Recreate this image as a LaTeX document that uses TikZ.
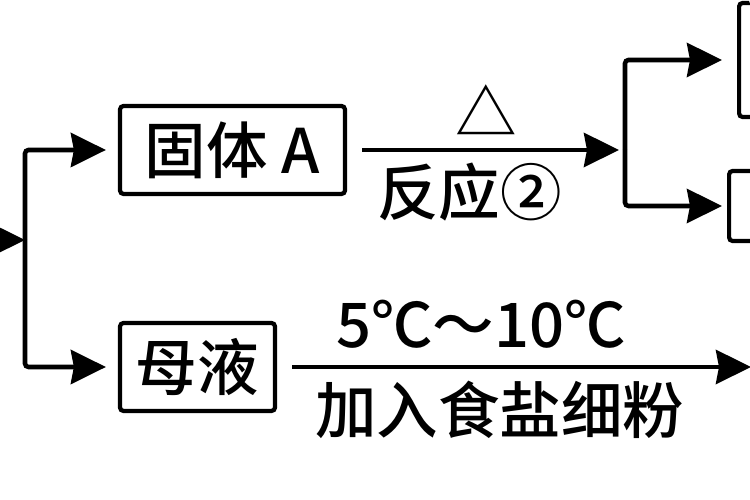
\documentclass[tikz,border=0pt]{standalone}
\usepackage{fontspec}
\setmainfont{Noto Sans CJK SC}[BoldFont={Noto Sans CJK SC Medium}]
\usetikzlibrary{arrows.meta}

\begin{document}
\begin{tikzpicture}[->,>={Stealth[length=0.7cm,width=0.68cm,inset=0.06cm]},line width=2.6pt,
                    rounded corners=2pt,font=\fontsize{35pt}{40pt}\selectfont\bfseries,
                    box node/.style={rectangle,draw,line width=2.4pt,inner sep=0pt,minimum height=1.76cm},
                    gap/.style={shorten <=0.3cm}]
  \useasboundingbox (0,0) rectangle (15,10);
  \clip (0,0) rectangle (15,10);

  \coordinate (in) at (-0.3,5.2);
  \coordinate (j1) at (0.5,5.2);
  \node[box node, minimum width=4.5cm] (A) at (4.65,7.0) {固体 A};
  \node[box node, minimum width=3.1cm] (L) at (3.95,2.66) {母液};
  \coordinate (j2) at (12.5,7.0);
  \node[box node, anchor=west, minimum width=2cm, minimum height=2.28cm] (R1) at (14.74,8.8) {};
  \node[box node, anchor=west, minimum width=2cm, minimum height=1.4cm] (R2) at (14.54,5.88) {};
  \coordinate (out) at (15.02,2.66);

  \draw (in) -- (j1);
  \draw[shorten >=0.24cm] (j1) |- (A.west);
  \draw[shorten >=0.24cm] (j1) |- (L.west);
  \path
    (A) edge [gap, shorten >=0.12cm] node [above=0.12cm] {△} node [below=0.1cm, pos=0.44] {反应②} (j2)
    (L) edge [gap] node [above=0.2cm, pos=0.43] {5℃～10℃} node [below=0.12cm, pos=0.47] {加入食盐细粉} (out);
  \draw[shorten >=0.3cm] (j2) |- (R1.west);
  \draw[shorten >=0.1cm] (j2) |- (R2.west);
\end{tikzpicture}
\end{document}
